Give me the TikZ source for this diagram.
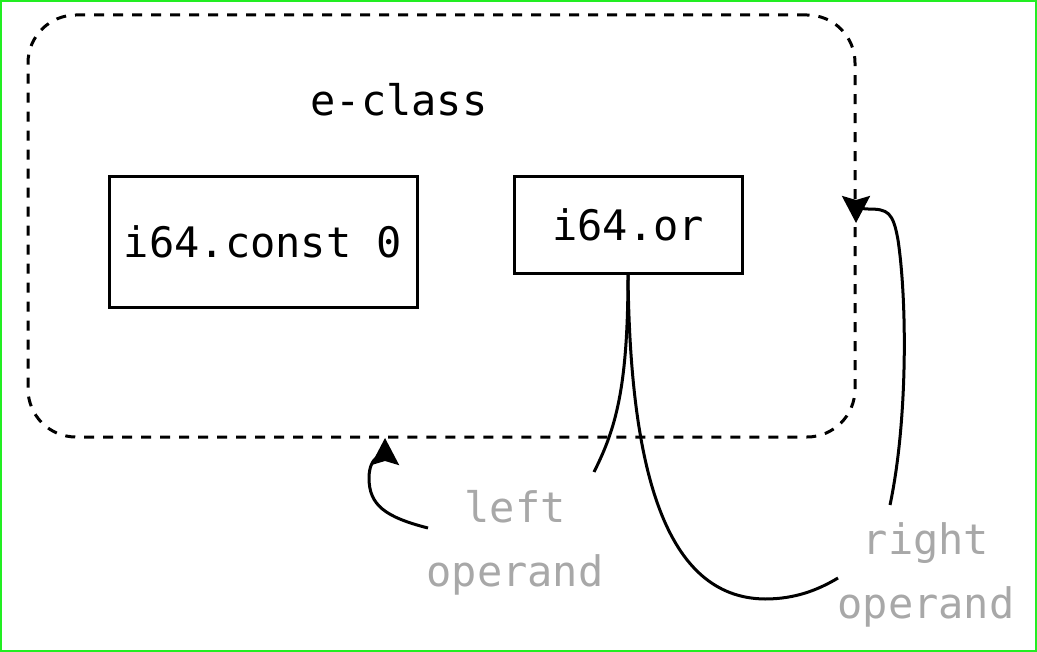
\documentclass[tikz,border=0pt]{standalone}
\usepackage{fontspec}
\setmonofont{DejaVu Sans Mono}
\usetikzlibrary{arrows.meta}
\definecolor{labelgray}{HTML}{A8A8A8}
\definecolor{framegreen}{HTML}{22EE22}
\tikzset{
  eclassbox/.style={draw, dash pattern=on 5pt off 4.5pt, line width=1.5pt, rounded corners=24pt},
  opnode/.style={draw, line width=1.5pt, inner sep=0pt, font=\ttfamily\fontsize{21}{32}\selectfont},
  oplabel/.style={text=labelgray, align=center, inner sep=0pt, font=\ttfamily\fontsize{21}{32}\selectfont},
  operandedge/.style={line width=1.5pt},
  operandarrow/.style={operandedge, -{Stealth[length=13.5pt, width=14pt, inset=2pt]}}
}

\begin{document}
\begin{tikzpicture}[x=0.5pt, y=-0.5pt]
  \useasboundingbox (0,0) rectangle (1037,652);
  \draw[framegreen, line width=1pt] (1,1) rectangle (1036,651);

  \node[eclassbox, minimum width=413.5pt, minimum height=211pt] (eclass) at (441.5,226) {};
  \node[font=\ttfamily\fontsize{21}{32}\selectfont] (eclasstitle) at (399,100) {e-class};

  \node[opnode, minimum width=154pt, minimum height=65pt] (const) at (263,242) {i64.const 0};
  \node[opnode, minimum width=114pt, minimum height=48pt] (or) at (628,225) {i64.or};

  \node[oplabel] (leftop) at (515,543) {left\\operand};
  \node[oplabel] (rightop) at (926,575) {right\\operand};

  \coordinate (leftin) at (594,472);
  \coordinate (leftout) at (428,528);
  \coordinate (lefttip) at (385,438);
  \coordinate (rightin) at (838,578);
  \coordinate (rightout) at (890,505);
  \coordinate (righttip) at (856,223);

  % i64.or -> left operand -> e-class
  \draw[operandedge] (or.south) .. controls (628,390) and (615,430) .. (leftin);
  \draw[operandarrow] (leftout) .. controls (385,517) and (369,505) .. (369,478)
    .. controls (369,455) and (385,452) .. (lefttip);

  % i64.or -> right operand -> e-class
  \draw[operandedge] (or.south) .. controls (630,470) and (665,598) .. (765,599)
    .. controls (795,599) and (818,590) .. (rightin);
  \draw[operandarrow] (rightout) .. controls (908,420) and (907,300) .. (898,240)
    .. controls (893,212) and (888,209) .. (868,209)
    .. controls (860,209) and (856,206) .. (righttip);
\end{tikzpicture}
\end{document}
